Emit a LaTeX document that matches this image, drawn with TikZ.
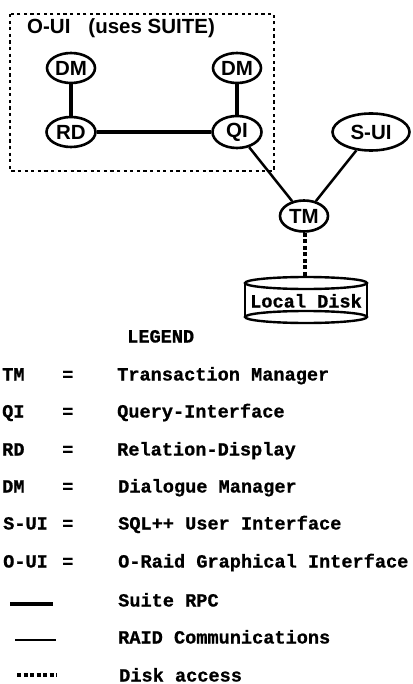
\documentclass[tikz,border=0pt]{standalone}
\usepackage{fontspec}
\setmainfont{Liberation Sans}
\newfontfamily\helv{Liberation Sans Bold}
\newfontfamily\monofam[FakeBold=0.8]{Liberation Mono Bold}
\usetikzlibrary{shapes.geometric}
\begin{document}
\begin{tikzpicture}[x=1pt,y=-1pt,
  nd/.style={ellipse,draw,line width=2.6pt,inner sep=0pt,font=\helv\fontsize{20.5}{21}\selectfont},
  rpc/.style={line width=4pt},
  raid/.style={line width=2.5pt},
  diskline/.style={line width=4.2pt,dash pattern=on 4pt off 2.5pt},
  lg/.style={font=\monofam\fontsize{18.6}{19}\selectfont,inner sep=0pt,anchor=base west}
]
\useasboundingbox (0,0) rectangle (412,684);
% O-UI box
\draw[line width=2.8pt,dash pattern=on 3.2pt off 3.4pt] (10,14) rectangle (274,171);
\node[anchor=base west,inner sep=0pt,font=\helv\fontsize{20.5}{21}\selectfont] (title) at (27,33.5) {O-UI\hspace{18pt}(uses SUITE)};
% nodes
\node[nd,minimum width=48pt,minimum height=30pt] (dml) at (71,68) {DM};
\node[nd,minimum width=48pt,minimum height=30pt] (dmr) at (237,68) {DM};
\node[nd,minimum width=49pt,minimum height=30pt] (rd) at (71,132) {RD};
\node[nd,minimum width=49pt,minimum height=32pt] (qi) at (237,132) {QI};
\node[nd,minimum width=77pt,minimum height=37pt] (sui) at (371,132) {S-UI};
\node[nd,minimum width=48pt,minimum height=31pt] (tm) at (304,216) {TM};
% disk
\draw[line width=2.4pt] (245,283) -- (245,317) (367,283) -- (367,317);
\draw[line width=2.4pt] (306,283) ellipse [x radius=61, y radius=6];
\draw[line width=2.4pt] (306,317) ellipse [x radius=61, y radius=6];
\coordinate (disktop) at (305,277);
\node[lg,anchor=base] (disk) at (306,307.5) {Local Disk};
% connectors
\draw[rpc] (dml) -- (rd);
\draw[rpc] (dmr) -- (qi);
\draw[rpc] (rd) -- (qi);
\draw[raid] (qi) -- (tm);
\draw[raid] (sui) -- (tm);
\draw[diskline] (tm.south -| disktop) -- (disktop);
% legend
\node[lg,anchor=base west] (legend) at (127,342.5) {LEGEND};
\node[lg] (ka) at (2,380.5) {TM};
\node[lg] (ea) at (62,380.5) {=};
\node[lg] (va) at (117,380.5) {Transaction Manager};
\node[lg] (kb) at (2,417.5) {QI};
\node[lg] (eb) at (62,417.5) {=};
\node[lg] (vb) at (117,417.5) {Query-Interface};
\node[lg] (kc) at (2,455.5) {RD};
\node[lg] (ec) at (62,455.5) {=};
\node[lg] (vc) at (117,455.5) {Relation-Display};
\node[lg] (kd) at (2,492.5) {DM};
\node[lg] (ed) at (62,492.5) {=};
\node[lg] (vd) at (118,492.5) {Dialogue Manager};
\node[lg] (ke) at (3,529.5) {S-UI};
\node[lg] (ee) at (62,529.5) {=};
\node[lg] (ve) at (118,529.5) {SQL++ User Interface};
\node[lg] (kf) at (3,567.5) {O-UI};
\node[lg] (ef) at (62,567.5) {=};
\node[lg] (vf) at (118,567.5) {O-Raid Graphical Interface};
\coordinate (la1) at (10,604); \coordinate (lb1) at (53,604);
\draw[rpc] (la1) -- (lb1);
\node[lg] (vg) at (118,606.5) {Suite RPC};
\coordinate (la2) at (15,640); \coordinate (lb2) at (56,640);
\draw[raid] (la2) -- (lb2);
\node[lg] (vh) at (118,643.5) {RAID Communications};
\coordinate (la3) at (17,675); \coordinate (lb3) at (57,675);
\draw[line width=3.8pt,dash pattern=on 4pt off 2.5pt] (la3) -- (lb3);
\node[lg] (vi) at (119,681.5) {Disk access};
\end{tikzpicture}
\end{document}
